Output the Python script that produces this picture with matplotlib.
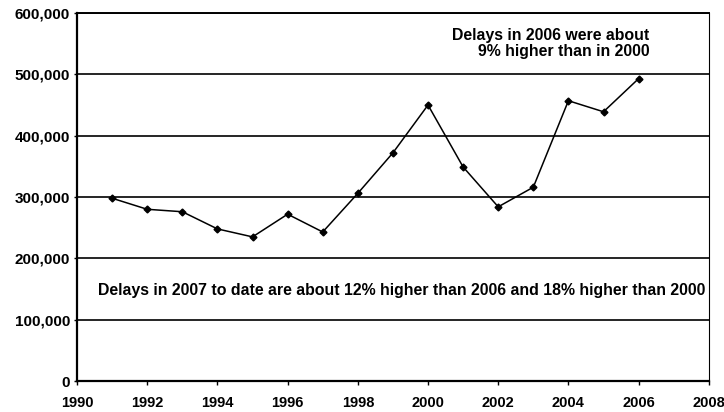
import numpy as np
import matplotlib.pyplot as plt
from matplotlib.ticker import FuncFormatter

years = [1991, 1992, 1993, 1994, 1995, 1996, 1997, 1998,
         1999, 2000, 2001, 2002, 2003, 2004, 2005, 2006]
delays = [298000, 280000, 276000, 248000, 235000, 272000, 243000, 306000,
          372000, 450000, 349000, 284000, 316000, 457000, 439000, 493000]

x_ticks = list(range(1990, 2009, 2))
y_ticks = list(range(0, 600001, 100000))

plt.rcParams['font.family'] = ['Liberation Sans', 'DejaVu Sans']

fig = plt.figure(figsize=(7.24, 4.12), dpi=100)
ax = fig.add_axes([0.1064, 0.0752, 0.8726, 0.8932])

ax.plot(years, delays, color='black', linewidth=1.1, marker='D', markersize=3.5)

ax.set_xlim(1990, 2008)
ax.set_ylim(0, 600000)
ax.set_xticks(x_ticks)
ax.set_yticks(y_ticks)
ax.yaxis.set_major_formatter(FuncFormatter(lambda v, p: f'{int(v):,}'))
ax.grid(axis='y', color='black', linewidth=1.2)
ax.set_axisbelow(True)

for s in ax.spines.values():
    s.set_color('black')
ax.spines['left'].set_linewidth(1.6)
ax.spines['bottom'].set_linewidth(1.6)
ax.spines['top'].set_linewidth(1.4)
ax.spines['right'].set_linewidth(0.8)

ax.tick_params(axis='x', direction='out', length=3, width=1, labelsize=10.5, pad=8)
ax.tick_params(axis='y', direction='out', length=2, width=1, labelsize=11, pad=3)
for lbl in ax.get_xticklabels() + ax.get_yticklabels():
    lbl.set_fontweight('bold')

ax.text(2006.3, 575000, 'Delays in 2006 were about\n9% higher than in 2000',
        ha='right', va='top', fontsize=11.4, fontweight='bold', linespacing=1.05)
ax.text(1999.26, 147000,
        'Delays in 2007 to date are about 12% higher than 2006 and 18% higher than 2000',
        ha='center', va='center', fontsize=11.4, fontweight='bold')

fig.savefig('out.png', dpi=100)
